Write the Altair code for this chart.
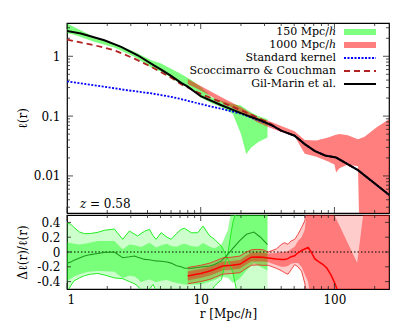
import altair as alt
import pandas as pd

FONT = "DejaVu Serif"
W, H1, H2 = 322, 190, 74

# ---------------- top panel data ----------------
r_gm = [1, 1.27, 1.9, 2.54, 3.38, 4.5, 5.06, 6.0, 7.14, 8, 10, 14.3, 20, 28.3, 33.6, 40, 50.4, 60, 71, 85, 103, 150, 257]
l_gm = [2.64, 2.4, 1.85, 1.44, 1.04, 0.70, 0.60, 0.47, 0.36, 0.31, 0.215, 0.152, 0.112, 0.084, 0.071, 0.057, 0.047, 0.034, 0.0263, 0.022, 0.0203, 0.0125, 0.0048]

r_sc = [1, 1.6, 2.26, 3.19, 4.27, 5.06, 6, 7.14, 8, 10, 14.3, 20, 26.5, 33.6, 40, 50.4, 60, 71, 85, 103, 150, 257]
l_sc = [1.9, 1.53, 1.26, 0.915, 0.665, 0.54, 0.44, 0.34, 0.30, 0.235, 0.17, 0.126, 0.095, 0.074, 0.057, 0.047, 0.034, 0.0263, 0.022, 0.0203, 0.0125, 0.0048]

r_st = [1, 1.6, 2.85, 4.27, 5.06, 6, 7.14, 10, 14.3, 20, 28.3, 33.6, 40, 50.4, 60, 71, 85, 103, 150, 257]
l_st = [0.38, 0.327, 0.27, 0.24, 0.225, 0.21, 0.193, 0.159, 0.132, 0.11, 0.082, 0.071, 0.057, 0.047, 0.034, 0.0263, 0.022, 0.0203, 0.0125, 0.0048]

r_g150 = [1, 1.13, 1.6, 2.26, 3.19, 4.27, 5.06, 6, 7.14, 8.5, 10, 12, 14.3, 17.4, 20, 21.9, 23.9, 27, 31.6]
g150_hi = [3.53, 3.1, 2.11, 1.63, 1.19, 0.857, 0.755, 0.62, 0.507, 0.40, 0.31, 0.206, 0.18, 0.16, 0.15, 0.13, 0.115, 0.10, 0.089]
g150_lo = [2.45, 2.3, 1.75, 1.4, 0.98, 0.65, 0.55, 0.44, 0.34, 0.28, 0.205, 0.165, 0.14, 0.108, 0.05, 0.0233, 0.03, 0.037, 0.044]

r_r1000 = [8, 10, 14.3, 20, 26.8, 32, 40, 50.4, 60, 73.3, 89.7, 100, 103, 109, 126, 150, 154, 168, 207, 256]
r1000_hi = [0.418, 0.32, 0.206, 0.14, 0.095, 0.084, 0.068, 0.056, 0.04, 0.039, 0.044, 0.048, 0.049, 0.05, 0.048, 0.041, 0.042, 0.045, 0.065, 0.089]
r1000_lo = [0.345, 0.267, 0.17, 0.115, 0.078, 0.066, 0.054, 0.046, 0.0235, 0.021, 0.0175, 0.0155, 0.0114, 0.0135, 0.0155, 0.0145, 0.001, 0.001, 0.001, 0.001]

# ---------------- bottom panel data ----------------
r_g = [1.0, 1.07, 1.13, 1.24, 1.35, 1.5, 1.7, 1.9, 2.26, 2.61, 2.93, 3.2, 3.38, 3.58, 3.8, 4.14, 4.4, 4.64,
       5.06, 5.6, 6.01, 6.6, 7.14, 7.57, 8.5, 9.5, 10.4, 11.7, 12.7, 14.3, 16.0, 17.4, 19.5, 22, 25, 28, 31.6]
g_mid = [-0.15, -0.135, -0.11, -0.08, -0.055, -0.035, -0.02, -0.005, 0.0, -0.077, -0.065, -0.054, -0.07, -0.085,
         -0.1, -0.105, -0.115, -0.12, -0.125, -0.135, -0.15, -0.185, -0.2, -0.22, -0.22, -0.21, -0.2, -0.19,
         -0.17, -0.12, -0.03, 0.05, 0.15, 0.24, 0.27, 0.2, 0.10]
g_in_hi = [0.126, 0.12, 0.11, 0.10, 0.11, 0.13, 0.15, 0.15, 0.15, 0.036, 0.10, 0.09, 0.08, 0.068, 0.09, 0.126,
           0.09, 0.06, 0.09, 0.11, 0.08, 0.07, 0.10, 0.11, 0.08, 0.07, 0.12, 0.07, 0.05, 0.10, 0.3, 0.7, 0.7,
           0.7, 0.7, 0.7, 0.7]
g_in_lo = [-0.39, -0.36, -0.33, -0.30, -0.28, -0.265, -0.257, -0.26, -0.266, -0.35, -0.32, -0.33, -0.36, -0.41,
           -0.39, -0.37, -0.39, -0.41, -0.39, -0.38, -0.40, -0.42, -0.43, -0.44, -0.44, -0.44, -0.43, -0.40,
           -0.38, -0.33, -0.35, -0.42, -0.36, -0.25, -0.15, -0.2, -0.25]
g_out_a = [0.396, 0.374, 0.33, 0.27, 0.248, 0.25, 0.266, 0.293, 0.311, 0.171, 0.284, 0.24, 0.216, 0.25, 0.28,
           0.306, 0.22, 0.171, 0.261, 0.2, 0.171, 0.25, 0.306, 0.32, 0.26, 0.26, 0.35, 0.216, 0.17, 0.08, -0.1,
           -0.28, -0.7, -0.8, -0.8, -0.8, -0.8]
g_out_b = [-0.55, -0.45, -0.39, -0.35, -0.32, -0.30, -0.29, -0.31, -0.35, -0.36, -0.40, -0.43, -0.46, -0.52,
           -0.55, -0.5, -0.44, -0.52, -0.56, -0.6, -0.6, -0.6, -0.6, -0.6, -0.6, -0.6, -0.6, -0.55, -0.46, -0.37,
           0.0, 0.40, 0.7, 0.8, 0.8, 0.8, 0.8]

r_r = [8, 9.25, 10, 11.7, 12.7, 14.6, 17, 19.6, 21.5, 23.9, 26.5, 29.2, 32, 36.7, 40, 42.4, 44.9, 47.5, 50.4,
       53.4, 56.8, 60, 63.5, 67, 71.2, 76, 82.3, 88, 94.8, 100, 103.5, 110, 130, 148, 164, 200, 256]
r_mid = [-0.324, -0.30, -0.29, -0.257, -0.234, -0.19, -0.18, -0.167, -0.12, -0.07, -0.068, -0.07, -0.08, -0.095,
         -0.1, -0.1, -0.09, -0.063, -0.05, -0.01, 0.02, 0.04, 0.06, 0.0, -0.09, -0.13, -0.17, -0.22, -0.32,
         -0.41, -0.48, -0.6, -0.8, -0.9, -1.0, -1.0, -1.0]
r_in_hi = [-0.264, -0.24, -0.23, -0.197, -0.174, -0.13, -0.12, -0.107, -0.06, -0.01, -0.008, -0.01, -0.02,
           -0.015, 0.0, 0.0, 0.01, 0.04, 0.07, 0.15, 0.2, 0.3, 0.7, 0.7, 0.7, 0.7, 0.7, 0.7, 0.7,
           0.5, 0.443, 0.343, 0.068, -0.144, 0.5, 0.7, 0.7]
r_in_lo = [-0.384, -0.36, -0.35, -0.317, -0.294, -0.25, -0.24, -0.227, -0.18, -0.13, -0.128, -0.13, -0.14,
           -0.175, -0.2, -0.2, -0.19, -0.16, -0.15, -0.15, -0.2, -0.3, -0.4, -0.7, -0.7, -0.7, -0.7, -0.7,
           -0.7, -0.7, -0.7, -0.7, -0.7, -0.7, -0.7, -0.7, -0.7]
r_out_hi = [-0.21, -0.19, -0.18, -0.15, -0.125, -0.08, -0.07, -0.055, -0.01, 0.03, 0.035, 0.03, 0.0, 0.04,
            0.10, 0.126, 0.104, 0.15, 0.17, 0.24, 0.33, 0.42, 0.7, 0.7, 0.7, 0.7, 0.7, 0.7, 0.7, 0.7, 0.7,
            0.7, 0.7, 0.7, 0.7, 0.7, 0.7]
r_out_lo = [-0.43, -0.41, -0.40, -0.37, -0.345, -0.30, -0.29, -0.28, -0.23, -0.18, -0.175, -0.18, -0.18,
            -0.22, -0.25, -0.28, -0.30, -0.24, -0.17, -0.20, -0.26, -0.42, -0.7, -0.7, -0.7, -0.7, -0.7, -0.7,
            -0.7, -0.7, -0.7, -0.7, -0.7, -0.7, -0.7, -0.7, -0.7]

x_major = [1, 10, 100]
x_minor = [2, 3, 4, 5, 6, 7, 8, 9, 20, 30, 40, 50, 60, 70, 80, 90, 200]
y_top_major = [0.01, 0.1, 1]
y_top_minor = [0.003, 0.004, 0.005, 0.006, 0.007, 0.008, 0.009, 0.02, 0.03, 0.04, 0.05, 0.06, 0.07, 0.08,
               0.09, 0.2, 0.3, 0.4, 0.5, 0.6, 0.7, 0.8, 0.9, 2, 3]
y_bot_major = [-0.4, -0.2, 0, 0.2, 0.4]

legend_labels = ["150 Mpc/ℎ", "1000 Mpc/ℎ", "Standard kernel", "Scoccimarro & Couchman", "Gil-Marin et al."]

# ---------------- scales & axes ----------------
xs = alt.Scale(type="log", domain=[1, 256], nice=False)
ys_top = alt.Scale(type="log", domain=[0.0024, 3.6], nice=False)
ys_bot = alt.Scale(domain=[-0.5, 0.5], nice=False, zero=False)

ax_y_top = alt.Axis(values=y_top_major, format="~g", ticks=False, domain=False, grid=False,
                    title="ℓ(r)", labelPadding=7, minExtent=31, maxExtent=31, titlePadding=7)
ax_y_bot = alt.Axis(values=y_bot_major, labelExpr="datum.value == 0 ? '0' : '' + datum.value",
                    ticks=False, domain=False, grid=False, title="Δℓ(r)/ℓ(r)", labelPadding=7,
                    minExtent=31, maxExtent=31, titlePadding=7)
ax_x_bot = alt.Axis(values=x_major, format="~g", ticks=False, domain=False, grid=False,
                    title="r [Mpc/ℎ]", labelPadding=5, titlePadding=3)


def X(ax):
    return alt.X("r:Q", scale=xs, axis=ax)


def band(r, lo, hi, color, op, ys, yax, xax):
    df = pd.DataFrame({"r": r, "lo": lo, "hi": hi})
    return alt.Chart(df).mark_area(color=color, opacity=op, clip=True).encode(
        x=X(xax), y=alt.Y("lo:Q", scale=ys, axis=yax), y2="hi:Q")


def curve(r, v, color, width, ys, yax, xax, dash=None, op=1.0):
    df = pd.DataFrame({"r": r, "v": v})
    kw = dict(color=color, strokeWidth=width, clip=True, opacity=op)
    if dash:
        kw["strokeDash"] = dash
    return alt.Chart(df).mark_line(**kw).encode(x=X(xax), y=alt.Y("v:Q", scale=ys, axis=yax))


def xticks(vals, L, Hh, ys, yax, xax):
    df = pd.DataFrame({"r": vals})
    b = alt.Chart(df).mark_rule(color="#222222", strokeWidth=0.8)
    return [b.encode(x=X(xax), y=alt.value(0), y2=alt.value(L)),
            b.encode(x=X(xax), y=alt.value(Hh), y2=alt.value(Hh - L))]


def yticks(vals, L, ys, yax, xax):
    df = pd.DataFrame({"v": vals})
    b = alt.Chart(df).mark_rule(color="#222222", strokeWidth=0.8)
    return [b.encode(y=alt.Y("v:Q", scale=ys, axis=yax), x=alt.value(0), x2=alt.value(L)),
            b.encode(y=alt.Y("v:Q", scale=ys, axis=yax), x=alt.value(W), x2=alt.value(W - L))]


# ---------------- top panel ----------------
GREEN, RED = "#00ff00", "#ff0000"
top_layers = [
    band(r_g150, g150_lo, g150_hi, GREEN, 0.5, ys_top, ax_y_top, None),
    band(r_r1000, r1000_lo, r1000_hi, RED, 0.5, ys_top, ax_y_top, None),
    curve(r_st, l_st, "#0000ff", 1.8, ys_top, ax_y_top, None, dash=[2, 1.5]),
    curve(r_sc, l_sc, "#b22222", 1.8, ys_top, ax_y_top, None, dash=[6, 4]),
    curve(r_gm, l_gm, "black", 2.0, ys_top, ax_y_top, None),
]
top_layers += xticks(x_major, 6, H1, ys_top, ax_y_top, None)
top_layers += xticks(x_minor, 3, H1, ys_top, ax_y_top, None)
top_layers += yticks(y_top_major, 6, ys_top, ax_y_top, None)
top_layers += yticks(y_top_minor, 3, ys_top, ax_y_top, None)

leg_y = [9, 22, 35, 48, 61]
for lab, py in zip(legend_labels, leg_y):
    top_layers.append(alt.Chart(pd.DataFrame({"t": [lab]})).mark_text(
        align="right", baseline="middle", font=FONT, fontSize=11, color="black").encode(
        text="t:N", x=alt.value(269), y=alt.value(py)))
top_layers.append(alt.Chart(pd.DataFrame({"t": [0]})).mark_rect(color=GREEN, opacity=0.5).encode(
    x=alt.value(277), x2=alt.value(309), y=alt.value(leg_y[0] - 3), y2=alt.value(leg_y[0] + 3)))
top_layers.append(alt.Chart(pd.DataFrame({"t": [0]})).mark_rect(color=RED, opacity=0.5).encode(
    x=alt.value(277), x2=alt.value(309), y=alt.value(leg_y[1] - 3), y2=alt.value(leg_y[1] + 3)))
for py, col, w, dash in [(leg_y[2], "#0000ff", 1.8, [2, 1.5]), (leg_y[3], "#b22222", 1.8, [6, 4]),
                         (leg_y[4], "black", 2.0, None)]:
    kw = dict(color=col, strokeWidth=w)
    if dash:
        kw["strokeDash"] = dash
    top_layers.append(alt.Chart(pd.DataFrame({"t": [0]})).mark_rule(**kw).encode(
        x=alt.value(277), x2=alt.value(309), y=alt.value(py)))
top_layers.append(alt.Chart(pd.DataFrame({"t": ["z"]})).mark_text(
    align="left", baseline="middle", font=FONT, fontSize=12, fontStyle="italic", color="black").encode(
    text="t:N", x=alt.value(13), y=alt.value(181)))
top_layers.append(alt.Chart(pd.DataFrame({"t": ["= 0.58"]})).mark_text(
    align="left", baseline="middle", font=FONT, fontSize=12, color="black").encode(
    text="t:N", x=alt.value(23), y=alt.value(181)))

top = alt.layer(*top_layers).properties(width=W, height=H1)

# ---------------- bottom panel ----------------
bot_layers = [
    band(r_g, g_out_b, g_out_a, GREEN, 0.2, ys_bot, ax_y_bot, ax_x_bot),
    band(r_g, g_in_lo, g_in_hi, GREEN, 0.4, ys_bot, ax_y_bot, ax_x_bot),
    band(r_r, r_out_lo, r_out_hi, RED, 0.2, ys_bot, ax_y_bot, ax_x_bot),
    band(r_r, r_in_lo, r_in_hi, RED, 0.4, ys_bot, ax_y_bot, ax_x_bot),
]
zero_df = pd.DataFrame({"v": [0]})
bot_layers.append(alt.Chart(zero_df).mark_rule(color="black", strokeWidth=1, strokeDash=[1.5, 2]).encode(
    y=alt.Y("v:Q", scale=ys_bot, axis=ax_y_bot), x=alt.value(0), x2=alt.value(W)))
bot_layers += [
    curve(r_g, g_out_a, "#22ee22", 1.0, ys_bot, ax_y_bot, ax_x_bot),
    curve(r_g, g_out_b, "#22ee22", 1.0, ys_bot, ax_y_bot, ax_x_bot),
    curve(r_g, g_mid, "#1f9a1f", 1.1, ys_bot, ax_y_bot, ax_x_bot),
    curve(r_r, r_out_hi, "#ee2020", 1.0, ys_bot, ax_y_bot, ax_x_bot, op=0.8),
    curve(r_r, r_out_lo, "#ee2020", 1.0, ys_bot, ax_y_bot, ax_x_bot, op=0.8),
    curve(r_r, r_mid, "#ff0000", 1.5, ys_bot, ax_y_bot, ax_x_bot),
]
bot_layers += xticks(x_major, 6, H2, ys_bot, ax_y_bot, ax_x_bot)
bot_layers += xticks(x_minor, 3, H2, ys_bot, ax_y_bot, ax_x_bot)
bot_layers += yticks(y_bot_major, 4, ys_bot, ax_y_bot, ax_x_bot)

bottom = alt.layer(*bot_layers).properties(width=W, height=H2)

chart = alt.vconcat(top, bottom, spacing=0).properties(
    padding={"left": 7, "top": 14, "right": 5, "bottom": 2}
).configure_axis(
    labelFont=FONT, titleFont=FONT, labelFontSize=12, titleFontSize=12,
    labelColor="black", titleColor="black", titleFontWeight="normal"
).configure_view(stroke="black", strokeWidth=1.2)

chart.save("out.html", embed_options={"renderer": "svg", "actions": False})
